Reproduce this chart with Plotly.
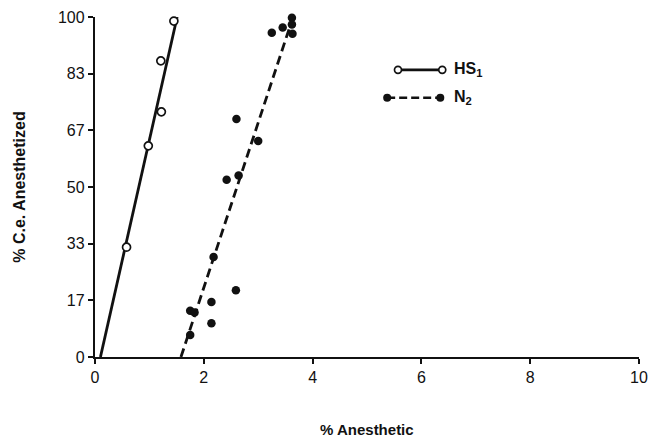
import plotly.graph_objects as go

# ---- data ----
hs1_x = [0.58, 0.98, 1.22, 1.21, 1.45]
hs1_y = [32.3, 62.1, 72.1, 87.1, 98.8]
hs1_fit_x = [0.10, 1.51]
hs1_fit_y = [0, 100]

n2_x = [1.75, 1.75, 1.83, 2.14, 2.14, 2.18, 2.59, 2.42, 2.64, 3.00, 2.60,
        3.25, 3.45, 3.62, 3.62, 3.63]
n2_y = [6.5, 13.6, 13.1, 9.9, 16.2, 29.4, 19.6, 52.1, 53.4, 63.5, 70.0,
        95.4, 96.9, 99.8, 97.8, 95.1]
n2_fit_x = [1.58, 3.62]
n2_fit_y = [0, 99]

x_ticks = [0, 2, 4, 6, 8, 10]
y_tickvals = [0, 100/6, 200/6, 50, 400/6, 500/6, 100]
y_ticktext = ["0", "17", "33", "50", "67", "83", "100"]

series_names = ["HS<sub>1</sub>", "N<sub>2</sub>"]

FONT = "Liberation Sans, Arial, sans-serif"
INK = "#111111"

W, H = 657, 445
L, R, T, B = 95, 9, 16, 88
pw, ph = W - L - R, H - T - B


def px_to_paper(px, py):
    return (px - L) / pw, (H - B - py) / ph


fig = go.Figure()

# fitted lines
fig.add_trace(go.Scatter(x=hs1_fit_x, y=hs1_fit_y, mode="lines",
                         line=dict(color=INK, width=2.8), cliponaxis=False,
                         showlegend=False, hoverinfo="skip"))
fig.add_trace(go.Scatter(x=n2_fit_x, y=n2_fit_y, mode="lines",
                         line=dict(color=INK, width=2.8, dash="9px,5px"),
                         cliponaxis=False, showlegend=False, hoverinfo="skip"))

# data points
fig.add_trace(go.Scatter(x=hs1_x, y=hs1_y, mode="markers", cliponaxis=False,
                         marker=dict(symbol="circle", size=8, color="white",
                                     line=dict(color=INK, width=1.7)),
                         showlegend=False))
fig.add_trace(go.Scatter(x=n2_x, y=n2_y, mode="markers", cliponaxis=False,
                         marker=dict(symbol="circle", size=8.5, color=INK,
                                     line=dict(color=INK, width=0)),
                         showlegend=False))

# legend samples drawn on an overlay axis spanning the plot area (0..1)
lx1a, ly1 = px_to_paper(403, 69)
lx1b, _ = px_to_paper(448, 69)
lx2a, ly2 = px_to_paper(392, 97)
lx2b, _ = px_to_paper(446, 97)
fig.add_trace(go.Scatter(x=[lx1a, lx1b], y=[ly1, ly1], mode="lines+markers",
                         xaxis="x2", yaxis="y2", cliponaxis=False,
                         line=dict(color=INK, width=2.6),
                         marker=dict(symbol="circle", size=7, color="white",
                                     line=dict(color=INK, width=1.7)),
                         showlegend=False, hoverinfo="skip"))
fig.add_trace(go.Scatter(x=[lx2a, lx2b], y=[ly2, ly2], mode="lines+markers",
                         xaxis="x2", yaxis="y2", cliponaxis=False,
                         line=dict(color=INK, width=2.6, dash="8px,4px"),
                         marker=dict(symbol="circle", size=8, color=INK),
                         showlegend=False, hoverinfo="skip"))

tx, _ = px_to_paper(458, 0)
fig.add_annotation(x=tx, y=ly1, xref="paper", yref="paper", text="<b>" + series_names[0] + "</b>",
                   showarrow=False, xanchor="left", yanchor="middle",
                   font=dict(family=FONT, size=16, color=INK))
fig.add_annotation(x=tx, y=ly2, xref="paper", yref="paper", text="<b>" + series_names[1] + "</b>",
                   showarrow=False, xanchor="left", yanchor="middle",
                   font=dict(family=FONT, size=16, color=INK))

# axis titles
ax_x, ax_y = px_to_paper(371, 430)
fig.add_annotation(x=ax_x, y=ax_y, xref="paper", yref="paper", text="<b>% Anesthetic</b>",
                   showarrow=False, xanchor="center", yanchor="middle",
                   font=dict(family=FONT, size=15, color=INK))
ay_x, ay_y = px_to_paper(18, 187)
fig.add_annotation(x=ay_x, y=ay_y, xref="paper", yref="paper",
                   text="<b>% C.e. Anesthetized</b>", textangle=-90,
                   showarrow=False, xanchor="center", yanchor="middle",
                   font=dict(family=FONT, size=16, color=INK))

tickfont = dict(family=FONT, size=16, color=INK)
fig.update_layout(
    width=W, height=H,
    margin=dict(l=L, r=R, t=T, b=B),
    paper_bgcolor="white", plot_bgcolor="white",
    font=dict(family=FONT, size=14, color=INK),
    xaxis=dict(range=[0, 10], tickvals=x_ticks, ticks="outside", ticklen=5,
               tickwidth=1.5, tickcolor=INK, showline=True, linecolor=INK,
               linewidth=2.4, showgrid=False, zeroline=False,
               tickfont=tickfont),
    yaxis=dict(range=[0, 100], tickvals=y_tickvals, ticktext=y_ticktext,
               ticks="outside", ticklen=5, tickwidth=1.5, tickcolor=INK,
               showline=True, linecolor=INK, linewidth=2.4, showgrid=False,
               zeroline=False, tickfont=tickfont),
    xaxis2=dict(range=[0, 1], overlaying="x", visible=False, showgrid=False),
    yaxis2=dict(range=[0, 1], overlaying="y", visible=False, showgrid=False),
    showlegend=False,
)

fig.write_html("out.html")
